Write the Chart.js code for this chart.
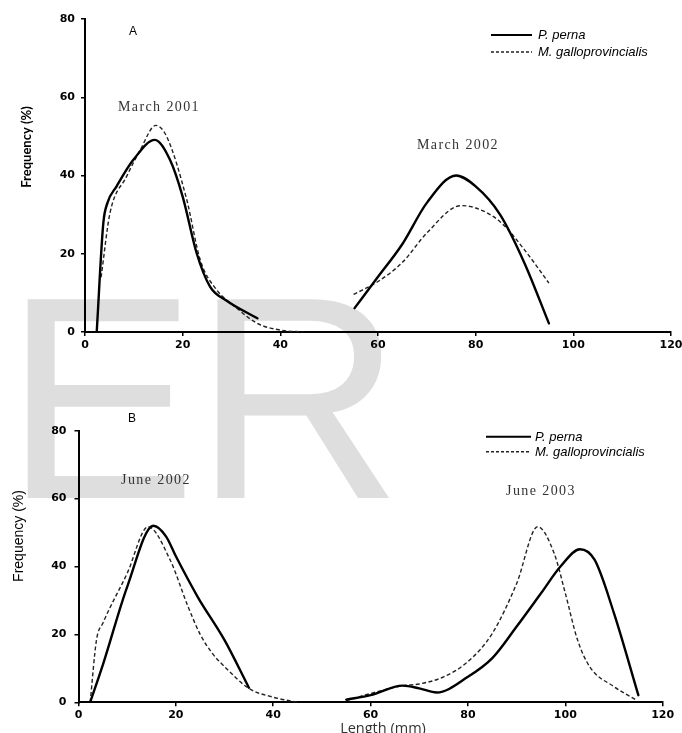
<!DOCTYPE html>
<html>
<head>
<meta charset="utf-8">
<script src="https://cdn.jsdelivr.net/npm/chart.js@4.4.1/dist/chart.umd.min.js"></script>
<style>
  html, body { margin: 0; padding: 0; background: #fff; }
  body { width: 682px; height: 733px; position: relative; overflow: hidden; }
  .panel { position: absolute; left: 0; width: 682px; }
  #panelA { top: 0; height: 366px; }
  #panelB { top: 366px; height: 367px; }
</style>
</head>
<body>
<div class="panel" id="panelA"><canvas id="chartA"></canvas></div>
<div class="panel" id="panelB"><canvas id="chartB"></canvas></div>
<script>
// Panel A - March 2001
const mar01PernaLen  = [2.4, 3.75, 4.6, 6.5, 9.9, 14.3, 17.4, 20, 22.9, 25.6, 29, 35.3];
const mar01PernaFreq = [0, 27.8, 33, 37.3, 44, 49.1, 44, 34.6, 20, 11.6, 8, 3.5];
const mar01GalloLen  = [3.3, 5.1, 8.5, 11.3, 14.5, 16.7, 20.8, 23.6, 27, 30.4, 35.3, 40, 44.7];
const mar01GalloFreq = [14, 30.3, 39.7, 46.5, 52.8, 50, 34, 18.4, 10.7, 6.8, 2.2, 0.5, 0];
// Panel A - March 2002
const mar02PernaLen  = [55.2, 60, 65, 70, 76, 80, 85, 90, 95];
const mar02PernaFreq = [6.1, 14.1, 22.5, 33, 40, 37.2, 30, 17.6, 2.2];
const mar02GalloLen  = [55, 60, 65, 70, 77, 80, 85, 90, 95];
const mar02GalloFreq = [9.6, 12.9, 17.8, 25.3, 32.3, 31.7, 28.2, 21, 12.5];
// Panel B - June 2002
const jun02PernaLen  = [2.4, 5, 10, 15.4, 18, 20, 24.5, 30, 35];
const jun02PernaFreq = [0, 11, 34, 52, 48.8, 43, 31, 18.3, 4.3];
const jun02GalloLen  = [2.4, 3.7, 5, 10, 14.3, 18.8, 22.5, 25, 27.5, 30, 35, 40, 45];
const jun02GalloFreq = [0, 18.4, 23.3, 38, 51.7, 42, 28.2, 20, 14.4, 10.5, 4.1, 1.5, 0];
// Panel B - June 2003
const jun03PernaLen  = [55, 60, 66.6, 70, 73.6, 80, 85, 90, 95, 99, 103, 106, 110, 115];
const jun03PernaFreq = [0.8, 2.1, 4.9, 4.1, 2.9, 7.5, 13, 22.3, 32.1, 40, 45.1, 42, 26.2, 2.1];
const jun03GalloLen  = [55, 60, 66.6, 70, 75, 80, 85, 90, 94.3, 97.7, 100, 102.5, 105, 110, 114.5];
const jun03GalloFreq = [0.5, 2.6, 4.9, 5.4, 7.5, 12, 20.3, 35, 51.7, 43.9, 32.1, 18.4, 10.5, 4.6, 0.7];

const xTicks = [0, 20, 40, 60, 80, 100, 120];
const yTicks = [0, 20, 40, 60, 80];
const speciesNames = ["P. perna", "M. galloprovincialis"];

const pts = (xs, ys) => xs.map((x, i) => ({ x: x, y: ys[i] }));

function pernaSet(xs, ys) {
    return {
        label: speciesNames[0], data: pts(xs, ys),
        borderColor: "#000", borderWidth: 2.4,
        pointRadius: 0, cubicInterpolationMode: "monotone", fill: false,
        borderCapStyle: "round", borderJoinStyle: "round",
    };
}

function galloSet(xs, ys) {
    return {
        label: speciesNames[1], data: pts(xs, ys),
        borderColor: "#222", borderWidth: 1.4, borderDash: [4, 2.5],
        pointRadius: 0, cubicInterpolationMode: "monotone", fill: false,
    };
}

function makeScales(cfg) {
    const tickFont = { family: "DejaVu Sans", weight: "bold", size: 11 };
    return {
        x: {
            type: "linear", min: xTicks[0], max: xTicks[xTicks.length - 1],
            afterBuildTicks: (s) => { s.ticks = xTicks.map(v => ({ value: v })); },
            ticks: { font: tickFont, color: "#000", padding: cfg.xPad, maxRotation: 0, autoSkip: false },
            grid: { drawOnChartArea: false, drawTicks: true, tickLength: 4, color: "#000", lineWidth: 1.5 },
            border: { display: true, color: "#000", width: 2 },
            afterFit: (s) => { s.height = cfg.xHeight; s.paddingLeft = 0; s.paddingRight = 0; },
        },
        y: {
            type: "linear", min: yTicks[0], max: yTicks[yTicks.length - 1],
            afterBuildTicks: (s) => { s.ticks = yTicks.map(v => ({ value: v })); },
            ticks: { font: tickFont, color: "#000", padding: cfg.yPad },
            grid: { drawOnChartArea: false, drawTicks: true, tickLength: 4, color: "#000", lineWidth: 1.5 },
            border: { display: true, color: "#000", width: 2 },
            afterFit: (s) => { s.width = cfg.yWidth; s.paddingTop = 0; s.paddingBottom = 0; },
        },
    };
}

// big grey "ER" stamp behind both panels (page coords, clipped per canvas)
const watermark = {
    id: "watermark",
    beforeDraw(chart, args, opts) {
        const ctx = chart.ctx;
        ctx.save();
        ctx.font = '289px "Liberation Sans", Arial, sans-serif';
        ctx.fillStyle = "#dedede";
        ctx.textBaseline = "alphabetic";
        ctx.letterSpacing = "-3px";
        ctx.fillText("ER", 4, 498 - opts.top);
        ctx.restore();
    }
};

// labels, period captions and the line legend
const annotations = {
    id: "annotations",
    afterDraw(chart, args, opts) {
        const ctx = chart.ctx;
        const top = opts.top;
        ctx.save();
        ctx.textBaseline = "middle";

        ctx.fillStyle = "#000";
        ctx.textAlign = "center";
        ctx.font = '12px "Liberation Sans", Arial, sans-serif';
        ctx.fillText(opts.letter[0], opts.letter[1], opts.letter[2] - top);

        ctx.fillStyle = "#333";
        ctx.font = '14px "Liberation Serif", "Times New Roman", serif';
        ctx.letterSpacing = "1.4px";
        opts.captions.forEach(c => ctx.fillText(c[0], c[1], c[2] - top));
        ctx.letterSpacing = "0px";

        // y axis title
        ctx.save();
        ctx.translate(opts.yTitle.x, opts.yTitle.y - top);
        ctx.rotate(-Math.PI / 2);
        ctx.fillStyle = "#000";
        ctx.font = opts.yTitle.font;
        ctx.fillText("Frequency (%)", 0, 0);
        ctx.restore();

        if (opts.xTitle) {
            ctx.fillStyle = "#333";
            ctx.textBaseline = "alphabetic";
            ctx.font = '14.5px "Open Sans", sans-serif';
            ctx.fillText("Length (mm)", opts.xTitle.x, opts.xTitle.y - top);
            ctx.textBaseline = "middle";
        }

        // legend
        const lg = opts.legend;
        const ds = chart.data.datasets;
        [0, 1].forEach(i => {
            const y = lg.y0 + i * lg.gap - top;
            ctx.beginPath();
            ctx.strokeStyle = ds[i].borderColor;
            ctx.lineWidth = i === 0 ? 2 : 1.4;
            ctx.setLineDash(i === 0 ? [] : [3, 2]);
            ctx.moveTo(lg.x0, y);
            ctx.lineTo(lg.x1, y);
            ctx.stroke();
            ctx.setLineDash([]);
            ctx.fillStyle = "#000";
            ctx.textAlign = "left";
            ctx.font = 'italic 13px "Liberation Sans", Arial, sans-serif';
            ctx.fillText(ds[i].label, lg.tx, y + 0.5);
        });
        ctx.restore();
    }
};

function makeChart(id, datasets, cfg, pluginOpts) {
    return new Chart(document.getElementById(id), {
        type: "line",
        data: { datasets: datasets },
        options: {
            responsive: true,
            maintainAspectRatio: false,
            animation: false,
            parsing: false,
            layout: { autoPadding: false, padding: cfg.padding },
            scales: makeScales(cfg),
            plugins: {
                legend: { display: false },
                tooltip: { enabled: false },
                watermark: { top: cfg.top },
                annotations: Object.assign({ top: cfg.top }, pluginOpts),
            },
        },
        plugins: [watermark, annotations],
    });
}

makeChart("chartA", [
    pernaSet(mar01PernaLen, mar01PernaFreq),
    galloSet(mar01GalloLen, mar01GalloFreq),
    pernaSet(mar02PernaLen, mar02PernaFreq),
    galloSet(mar02GalloLen, mar02GalloFreq),
], {
    top: 0, padding: { left: 0, right: 11, top: 19, bottom: 0 },
    yWidth: 85, xHeight: 34, xPad: 3, yPad: 6,
}, {
    letter: ["A", 133, 31.5],
    captions: [["March 2001", 159, 107.7], ["March 2002", 458, 145.7]],
    yTitle: { x: 27, y: 147, font: 'bold 13px Lato, sans-serif' },
    legend: { x0: 491, x1: 532, y0: 35, gap: 17, tx: 538 },
});

makeChart("chartB", [
    pernaSet(jun02PernaLen, jun02PernaFreq),
    galloSet(jun02GalloLen, jun02GalloFreq),
    pernaSet(jun03PernaLen, jun03PernaFreq),
    galloSet(jun03GalloLen, jun03GalloFreq),
], {
    top: 366, padding: { left: 0, right: 19.3, top: 64.7, bottom: 0 },
    yWidth: 78.5, xHeight: 30.7, xPad: 2, yPad: 8,
}, {
    letter: ["B", 132, 419],
    captions: [["June 2002", 156, 480.7], ["June 2003", 541, 491.7]],
    yTitle: { x: 19, y: 536, font: '14px "Liberation Sans", Arial, sans-serif' },
    xTitle: { x: 383, y: 733 },
    legend: { x0: 486, x1: 531, y0: 436.7, gap: 15, tx: 535 },
});
</script>
</body>
</html>
